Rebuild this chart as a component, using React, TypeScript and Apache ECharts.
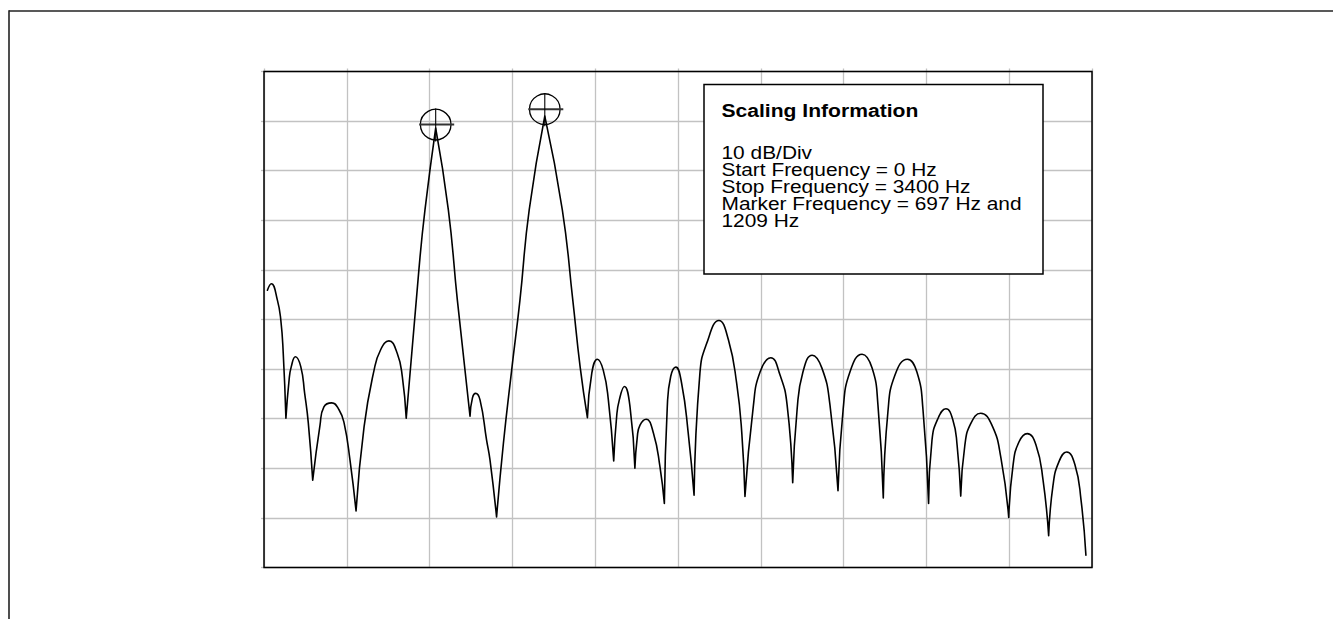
import React, { useEffect, useRef } from "react";
import * as echarts from "echarts";

// Axis scale: 0–3400 Hz horizontally, 10 dB per division vertically
const FREQ_MIN = 0;
const FREQ_MAX = 3400;
const FREQ_STEP = 340;
const DB_MIN = -100;
const DB_MAX = 0;
const DB_STEP = 10;

// Spectrum trace (frequency in Hz, level in dB)
const traceHz = [
  14, 30, 55, 69, 79, 90,
  103, 112, 129, 151, 167, 182, 200,
  230, 246, 278, 308, 329, 353, 378,
  411, 452, 479, 513, 547, 568, 584,
  636, 661, 705,
  757, 794, 846,
  856, 869, 887, 914, 928, 955,
  983, 1017, 1051, 1089, 1153,
  1225, 1268, 1298, 1328,
  1346, 1369, 1393, 1414, 1436,
  1448, 1459, 1480, 1503, 1523,
  1533, 1544, 1569, 1599, 1626, 1644,
  1656, 1670, 1691, 1715, 1742, 1766,
  1790, 1818, 1868, 1907, 1941, 1962, 1975,
  2009, 2037, 2081, 2119, 2148, 2171,
  2189, 2213, 2251, 2291, 2324, 2357,
  2378, 2406, 2456, 2497, 2521, 2543,
  2562, 2591, 2642, 2681, 2706, 2729,
  2743, 2768, 2800, 2829, 2846, 2861,
  2878, 2903, 2943, 2989, 3026, 3058,
  3076, 3100, 3134, 3170, 3199, 3222,
  3240, 3264, 3296, 3330, 3355, 3375,
];
const traceDb = [
  -44.1, -42.8, -46.1, -50.1, -56.8, -69.9,
  -62.2, -59.5, -57.5, -59.5, -64.9, -70.9, -82.4,
  -71.3, -67.6, -66.8, -68.2, -70.9, -78.3, -88.6,
  -71.6, -60.2, -56.1, -54.3, -56.8, -61.5, -69.9,
  -40.0, -27.9, -11.4,
  -27.9, -46.1, -69.5,
  -65.8, -64.9, -66.2, -74.3, -78.3, -89.8,
  -75.0, -60.2, -46.1, -27.9, -9.0,
  -27.9, -46.1, -59.5, -69.8,
  -60.8, -58.0, -60.2, -66.2, -78.5,
  -69.6, -66.2, -63.5, -67.6, -80.0,
  -73.6, -71.3, -70.1, -72.9, -79.7, -87.1,
  -67.6, -61.5, -59.6, -62.9, -72.9, -85.4,
  -60.8, -54.8, -50.2, -54.1, -62.9, -72.9, -85.7,
  -67.6, -60.6, -57.7, -61.2, -67.2, -82.9,
  -68.2, -60.6, -57.2, -59.8, -67.2, -84.5,
  -68.2, -60.6, -57.0, -59.8, -67.2, -86.0,
  -68.6, -61.2, -58.0, -60.6, -68.2, -87.1,
  -74.3, -69.9, -68.0, -70.3, -75.3, -85.6,
  -75.3, -70.9, -68.9, -71.3, -77.9, -89.9,
  -79.3, -74.7, -73.0, -75.3, -82.4, -93.6,
  -83.4, -78.7, -76.7, -79.3, -86.4, -97.5,
];
// Indices of the trace's sharp points (nulls between lobes and the two tone peaks)
const sharpIdx = [5, 12, 19, 26, 29, 32, 38, 43, 47, 52, 57, 63, 69, 76, 82, 88, 94, 100, 106, 112, 118];

// Marker positions (Hz, dB)
const markerHz = [705, 1153];
const markerDb = [-10.7, -7.6];

const infoTitle = "Scaling Information";
const infoLines = [
  "10 dB/Div",
  "Start Frequency = 0 Hz",
  "Stop Frequency = 3400 Hz",
  "Marker Frequency = 697 Hz and",
  "1209 Hz",
];

const FONT_FAMILY = '"Liberation Sans", Arial, Helvetica, sans-serif';

export default function App() {
  const ref = useRef<HTMLDivElement>(null);

  useEffect(() => {
    if (!ref.current) return;
    const chart = echarts.init(ref.current, undefined, { renderer: "svg" });

    const traceData: any[] = [];
    traceHz.forEach((hz, i) => {
      traceData.push([hz, traceDb[i]]);
      if (sharpIdx.includes(i) && i < traceHz.length - 1) {
        traceData.push([hz, "-"]);
        traceData.push([hz, traceDb[i]]);
      }
    });
    const markerData = markerHz.map((hz, i) => [hz, markerDb[i]]);

    const gridColor = "#c2c2c2";

    const textEls: any[] = [
      {
        type: "text",
        x: 721.5,
        y: 110,
        scaleX: 1.14,
        z: 102,
        style: {
          text: infoTitle,
          font: `bold 18.5px ${FONT_FAMILY}`,
          fill: "#000",
          textAlign: "left",
          textVerticalAlign: "middle",
        },
      },
      ...infoLines.map((t, i) => ({
        type: "text",
        x: 721.5,
        y: 152 + i * 17.2,
        scaleX: 1.13,
        z: 102,
        style: {
          text: t,
          font: `18.5px ${FONT_FAMILY}`,
          fill: "#000",
          textAlign: "left",
          textVerticalAlign: "middle",
        },
      })),
    ];

    chart.setOption({
      animation: false,
      backgroundColor: "#fff",
      grid: {
        left: 264,
        top: 71.5,
        width: 828,
        height: 496,
        show: true,
        borderColor: "#000",
        borderWidth: 1.5,
        backgroundColor: "transparent",
        z: 3,
      },
      xAxis: {
        type: "value",
        position: "top",
        min: FREQ_MIN,
        max: FREQ_MAX,
        interval: FREQ_STEP,
        axisLine: { show: false },
        axisLabel: { show: false },
        axisTick: { show: true, length: 3, lineStyle: { color: gridColor, width: 1.3 } },
        splitLine: { show: true, lineStyle: { color: gridColor, width: 1.3 } },
      },
      yAxis: {
        type: "value",
        min: DB_MIN,
        max: DB_MAX,
        interval: DB_STEP,
        axisLine: { show: false },
        axisLabel: { show: false },
        axisTick: { show: true, length: 3, lineStyle: { color: gridColor, width: 1.3 } },
        splitLine: { show: true, lineStyle: { color: gridColor, width: 1.3 } },
      },
      series: [
        {
          type: "line",
          data: traceData,
          smooth: 0.5,
          showSymbol: false,
          symbol: "none",
          connectNulls: false,
          lineStyle: { color: "#000", width: 1.6, cap: "round", join: "round" },
          z: 5,
        },
        {
          type: "custom",
          data: markerData,
          z: 6,
          renderItem: (params: any, api: any) => {
            const p = api.coord([api.value(0), api.value(1)]);
            return {
              type: "group",
              children: [
                {
                  type: "circle",
                  shape: { cx: p[0], cy: p[1], r: 15.3 },
                  style: { fill: "none", stroke: "#000", lineWidth: 1.3 },
                },
                {
                  type: "line",
                  shape: { x1: p[0] - 16.5, y1: p[1], x2: p[0] + 18.5, y2: p[1] },
                  style: { stroke: "#333", lineWidth: 2 },
                },
                {
                  type: "line",
                  shape: { x1: p[0], y1: p[1] - 16, x2: p[0], y2: p[1] + 17 },
                  style: { stroke: "#000", lineWidth: 1.1 },
                },
              ],
            };
          },
        },
      ],
      graphic: [
        {
          type: "line",
          z: 50,
          shape: { x1: 9, y1: 11, x2: 1333, y2: 11 },
          style: { stroke: "#222", lineWidth: 1.6 },
        },
        {
          type: "line",
          z: 50,
          shape: { x1: 9, y1: 10.2, x2: 9, y2: 619 },
          style: { stroke: "#222", lineWidth: 1.6 },
        },
        {
          type: "rect",
          z: 100,
          shape: { x: 704, y: 84.5, width: 339, height: 189.5 },
          style: { fill: "#fff", stroke: "#000", lineWidth: 1.5 },
        },
        ...textEls,
      ],
    });

    return () => chart.dispose();
  }, []);

  return (
    <div
      ref={ref}
      style={{ position: "fixed", left: 0, top: 0, width: 1333, height: 619 }}
    />
  );
}
